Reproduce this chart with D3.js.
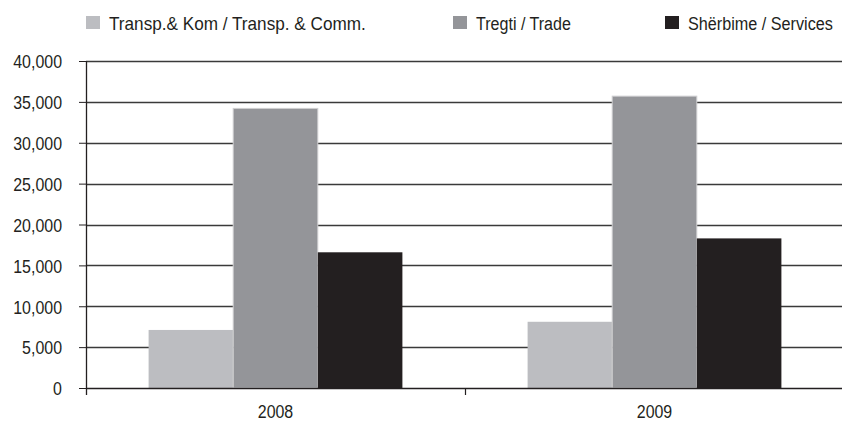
<!DOCTYPE html>
<html>
<head>
<meta charset="utf-8">
<script src="https://cdn.jsdelivr.net/npm/d3@7"></script>
<style>
  html, body { margin: 0; padding: 0; background: #fff; }
  svg { display: block; }
</style>
</head>
<body>
<svg id="chart" width="842" height="421"></svg>
<script>
const years = ["2008", "2009"];
const seriesNames = ["Transp.& Kom / Transp. & Comm.", "Tregti / Trade", "Shërbime / Services"];
const transportValues = [7100, 8100];
const tradeValues = [34200, 35700];
const servicesValues = [16600, 18300];
const yTicks = [0, 5000, 10000, 15000, 20000, 25000, 30000, 35000, 40000];
const colors = ["#bcbdc1", "#949599", "#231f20"];

const seriesValues = [transportValues, tradeValues, servicesValues];
const FONT = "'Liberation Sans', Arial, sans-serif";
const SX = 0.84;

function condense(sel, sx) {
  sel.each(function () {
    const t = d3.select(this);
    const x = +t.attr("x") || 0, yy = +t.attr("y") || 0;
    t.attr("transform", `translate(${x},${yy}) scale(${sx},1)`).attr("x", 0).attr("y", 0);
  });
}

const svg = d3.select("#chart");
const plotLeft = 86, plotRight = 844, plotTop = 61, plotBottom = 388;

const y = d3.scaleLinear().domain([0, 40000]).range([plotBottom, plotTop]);
const x0 = d3.scaleBand().domain(years).range([plotLeft, plotRight]).paddingInner(0).paddingOuter(0);
const x1 = d3.scaleBand().domain(d3.range(seriesNames.length)).range([0, x0.bandwidth()])
  .paddingInner(0).paddingOuter(0.74);

// gridlines
svg.append("g").selectAll("line").data(yTicks.filter(d => d > 0)).join("line")
  .attr("x1", plotLeft).attr("x2", plotRight)
  .attr("y1", d => Math.round(y(d)) + 0.5).attr("y2", d => Math.round(y(d)) + 0.5)
  .attr("stroke", "#3a3a3a").attr("stroke-width", 1.4);

// bars
const data = [];
years.forEach((yr, i) => seriesNames.forEach((s, j) => data.push({ yr, j, v: seriesValues[j][i] })));
svg.append("g").selectAll("rect").data(data).join("rect")
  .attr("x", d => x0(d.yr) + x1(d.j))
  .attr("width", x1.bandwidth())
  .attr("y", d => y(d.v))
  .attr("height", d => y(0) - y(d.v))
  .attr("fill", d => colors[d.j])
  .attr("stroke", d => d.j === 1 ? "#cfcfd1" : "none")
  .attr("stroke-width", 1);

// y axis
const yAxis = d3.axisLeft(y).tickValues(yTicks).tickSize(7).tickPadding(17)
  .tickFormat(d3.format(","));
const gy = svg.append("g").attr("transform", `translate(${plotLeft},0)`).call(yAxis);
gy.select(".domain").remove();
gy.selectAll(".tick line").attr("stroke", "#231f20").attr("stroke-width", 1);
gy.selectAll(".tick text").attr("font-family", FONT).attr("font-size", 19)
  .attr("fill", "#231f20").attr("dy", "0.36em").call(condense, SX);
svg.append("line").attr("x1", plotLeft + 0.5).attr("x2", plotLeft + 0.5)
  .attr("y1", plotTop).attr("y2", plotBottom + 7).attr("stroke", "#231f20").attr("stroke-width", 1.3);

// x axis baseline
svg.append("line").attr("x1", plotLeft).attr("x2", plotRight)
  .attr("y1", plotBottom + 0.5).attr("y2", plotBottom + 0.5)
  .attr("stroke", "#231f20").attr("stroke-width", 1.6);

// category boundary ticks
svg.append("g").selectAll("line").data(years.slice(1)).join("line")
  .attr("x1", d => x0(d) + 0.5).attr("x2", d => x0(d) + 0.5)
  .attr("y1", plotBottom).attr("y2", plotBottom + 7)
  .attr("stroke", "#231f20").attr("stroke-width", 1.2);

// category labels
svg.append("g").selectAll("text").data(years).join("text")
  .attr("x", d => x0(d) + x0.bandwidth() / 2)
  .attr("y", 418)
  .attr("text-anchor", "middle")
  .attr("font-family", FONT).attr("font-size", 19).attr("fill", "#231f20")
  .text(d => d)
  .call(condense, SX);

// legend
const legendX = [86, 453, 665];
const legendW = [257, 95, 145];
const lg = svg.append("g").selectAll("g").data(seriesNames).join("g")
  .attr("transform", (d, i) => `translate(${legendX[i]},0)`);
lg.append("rect").attr("x", 0).attr("y", 16).attr("width", 14).attr("height", 13)
  .attr("fill", (d, i) => colors[i]);
lg.append("text")
  .attr("font-family", FONT).attr("font-size", 19).attr("fill", "#231f20")
  .text(d => d)
  .each(function (d, i) {
    const natural = this.getComputedTextLength();
    const sx = legendW[i] / natural;
    d3.select(this).attr("transform", `translate(23,30) scale(${sx},1)`);
  });
</script>
</body>
</html>
